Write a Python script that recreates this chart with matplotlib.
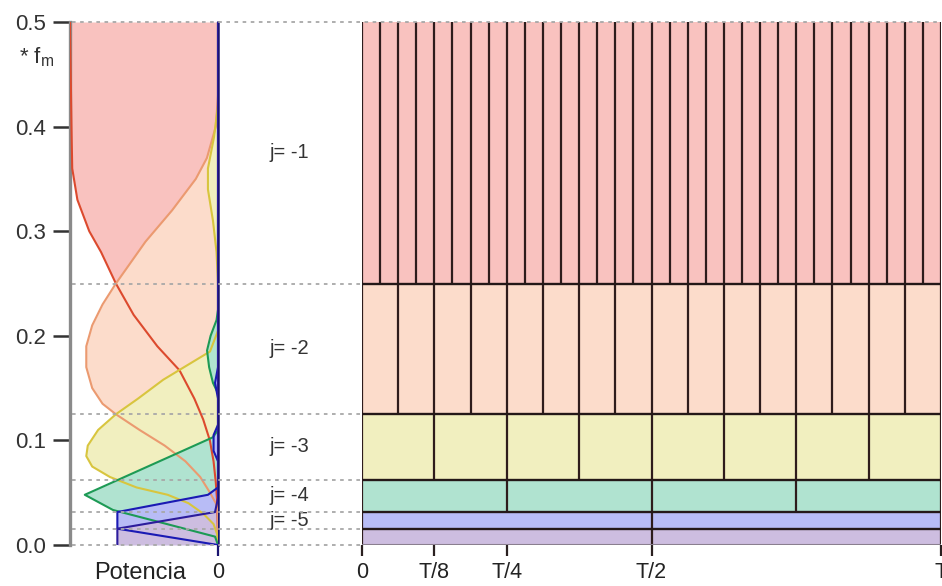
import numpy as np
import matplotlib
matplotlib.use('Agg')
import matplotlib.pyplot as plt
import matplotlib.transforms as mtransforms
from matplotlib.lines import Line2D

plt.rcParams['font.family'] = ['Liberation Sans', 'DejaVu Sans']
plt.rcParams['mathtext.fontset'] = 'custom'
plt.rcParams['mathtext.rm'] = 'Liberation Sans'

# frequency bands (in units of f_m) and number of time tiles in each
band_edges = [0.5, 0.25, 0.125, 0.0625, 0.03125, 0.015625, 0.0]
band_tiles = [32, 16, 8, 4, 2, 2]
band_labels = ['j= -1', 'j= -2', 'j= -3', 'j= -4', 'j= -5']
band_colors = ['#f9c2bf', '#fcdccb', '#f1efbf', '#b0e3d0', '#b8bcf6', '#cdbde0']

time_ticks = [0, 1/8, 1/4, 1/2, 1]
time_labels = ['0', 'T/8', 'T/4', 'T/2', 'T']

# power spectra (freq, power)
red_f = [0.5, 0.45, 0.40, 0.36, 0.33, 0.30, 0.28, 0.25, 0.22, 0.19, 0.167, 0.14, 0.12, 0.10, 0.08, 0.06, 0.04, 0.0]
red_p = [1.0, 0.995, 0.99, 0.985, 0.95, 0.87, 0.79, 0.69, 0.57, 0.41, 0.26, 0.16, 0.10, 0.055, 0.03, 0.015, 0.005, 0.0]

orange_f = [0.5, 0.43, 0.40, 0.37, 0.35, 0.32, 0.29, 0.25, 0.23, 0.21, 0.19, 0.17, 0.15, 0.135, 0.125,
            0.11, 0.095, 0.08, 0.065, 0.05, 0.04, 0.03, 0.0]
orange_p = [0.0, 0.0, 0.015, 0.075, 0.15, 0.31, 0.49, 0.69, 0.78, 0.85, 0.89, 0.89, 0.85, 0.78, 0.69,
            0.53, 0.36, 0.22, 0.12, 0.054, 0.015, 0.0, 0.0]

yellow_f = [0.5, 0.42, 0.39, 0.36, 0.34, 0.31, 0.28, 0.25, 0.205, 0.185, 0.158, 0.14, 0.125, 0.11, 0.095,
            0.085, 0.075, 0.065, 0.055, 0.048, 0.04, 0.03, 0.02, 0.01, 0.0]
yellow_p = [0.0, 0.0, 0.027, 0.068, 0.068, 0.034, 0.01, 0.0, 0.0, 0.054, 0.37, 0.54, 0.69, 0.81, 0.88,
            0.89, 0.85, 0.73, 0.55, 0.34, 0.2, 0.1, 0.03, 0.005, 0.0]

green_f = [0.5, 0.225, 0.215, 0.2, 0.186, 0.17, 0.155, 0.145, 0.11, 0.103, 0.048, 0.0335, 0.008, 0.0]
green_p = [0.0, 0.0, 0.01, 0.05, 0.074, 0.06, 0.034, 0.0, 0.0, 0.034, 0.90, 0.71, 0.02, 0.0]

blue_f = [0.5, 0.17, 0.155, 0.14, 0.115, 0.105, 0.09, 0.08, 0.055, 0.048, 0.0315, 0.0156, 0.0]
blue_p = [0.0, 0.0, 0.02, 0.0, 0.0, 0.03, 0.03, 0.0, 0.0, 0.068, 0.68, 0.68, 0.0]

purple_f = [0.5, 0.045, 0.0315, 0.0156, 0.0]
purple_p = [0.0, 0.0, 0.02, 0.68, 0.68]

curves = [
    (red_f, red_p, band_colors[0], '#dc4a2e'),
    (orange_f, orange_p, band_colors[1], '#eb9a70'),
    (yellow_f, yellow_p, band_colors[2], '#d8c53e'),
    (green_f, green_p, band_colors[3], '#1d9a55'),
    (blue_f, blue_p, band_colors[4], '#1a1ab4'),
    (purple_f, purple_p, band_colors[5], '#2c1c9c'),
]

W, H = 942, 586
fig = plt.figure(figsize=(W / 100, H / 100), dpi=100)
ax1 = fig.add_axes([70 / W, 41 / H, 148 / W, 523 / H])
ax2 = fig.add_axes([362 / W, 41 / H, 579 / W, 523 / H])

# ---- left: power spectra
for f, p, fc, lc in curves:
    ax1.fill_betweenx(f, p, 0, color=fc, lw=0, zorder=1)
for f, p, fc, lc in curves:
    ax1.plot(p, f, color=lc, lw=1.5, zorder=3)

ax1.set_xlim(1.0, 0.0)
ax1.set_ylim(0, 0.5)
for s in ['top', 'bottom']:
    ax1.spines[s].set_visible(False)
ax1.spines['left'].set_color('#8a8a8a')
ax1.spines['left'].set_linewidth(2.4)
ax1.spines['right'].set_color('#1a1470')
ax1.spines['right'].set_linewidth(1.8)
ax1.set_yticks([0, 0.1, 0.2, 0.3, 0.4, 0.5])
ax1.set_yticklabels(['0.0', '0.1', '0.2', '0.3', '0.4', '0.5'])
ax1.tick_params(axis='y', direction='out', length=12, width=1.8, color='#333333', pad=5, labelsize=16,
                labelcolor='#333333')
ax1.set_xticks([0.527, 0.0])
ax1.set_xticklabels(['Potencia', '0'])
ax1.tick_params(axis='x', direction='out', length=8, width=1.6, color='#1a1470', pad=4, labelsize=15.5,
                labelcolor='#222222')
ax1.xaxis.get_major_ticks()[0].tick1line.set_visible(False)
ax1.get_xticklabels()[0].set_fontsize(17)
fig.text(19 / W, 1 - 57 / H, r'* f$_\mathrm{m}$', fontsize=16, color='#333333', va='center')

# ---- right: time-frequency tiling
for i, n in enumerate(band_tiles):
    hi, lo = band_edges[i], band_edges[i + 1]
    ax2.fill_between([0, 1], lo, hi, color=band_colors[i], lw=0, zorder=1)
    ax2.vlines(np.linspace(0, 1, n + 1), lo, hi, color='#2e1c1c', lw=1.6, zorder=2)
ax2.hlines(band_edges[1:-1], 0, 1, color='#241818', lw=1.7, zorder=3)
ax2.hlines([0.0], 0, 1, color='#8a7f8f', lw=1.5, zorder=3)
ax2.set_xlim(0, 1)
ax2.set_ylim(0, 0.5)
for s in ax2.spines.values():
    s.set_visible(False)
ax2.set_yticks([])
ax2.set_xticks(time_ticks)
ax2.set_xticklabels(time_labels)
ax2.tick_params(axis='x', direction='out', length=8, width=1.6, color='#2a2020', pad=4, labelsize=15.5,
                labelcolor='#222222')

# dotted level lines linking the two panels
trans = mtransforms.blended_transform_factory(fig.transFigure, ax1.transData)
for k, e in enumerate(band_edges):
    x_end = 941 / W if k == 0 else 362 / W
    fig.add_artist(Line2D([72 / W, x_end], [e, e], transform=trans, color='#a8a8a8',
                          lw=1.3, ls=(0, (2, 2.5)), zorder=5))

# band labels
for i, lab in enumerate(band_labels):
    yc = (band_edges[i] + band_edges[i + 1]) / 2
    fig.text(289 / W, yc, lab, transform=trans, ha='center', va='center', fontsize=14.5, color='#333333')

fig.savefig('out.png', dpi=100)
